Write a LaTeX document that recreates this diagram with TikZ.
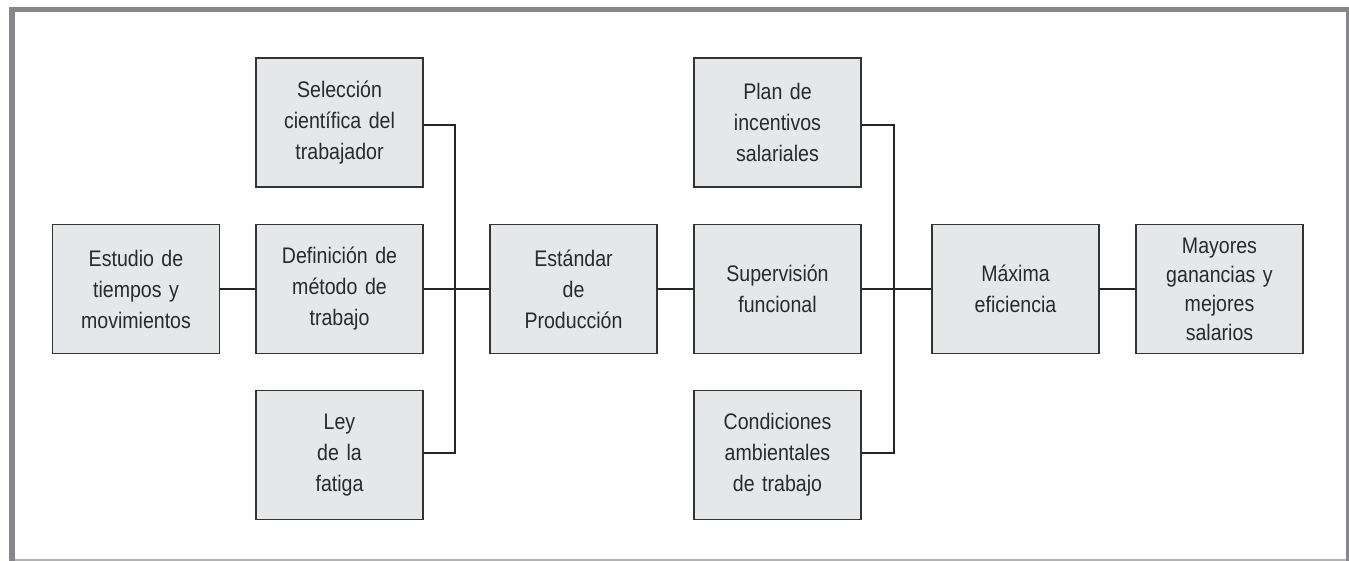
\documentclass[tikz,border=0pt]{standalone}
\usepackage{fontspec}
\setmainfont{Liberation Sans}[FakeStretch=0.87]
\definecolor{framegray}{HTML}{87878B}
\definecolor{boxfill}{HTML}{E6E7E9}
\definecolor{boxline}{HTML}{333335}
\definecolor{txt}{HTML}{2A2A2C}
\begin{document}
\begin{tikzpicture}[x=1pt,y=-1pt,
  box/.style={draw=boxline, line width=1.8pt, fill=boxfill, rectangle,
    minimum width=167pt, minimum height=129pt, inner sep=0pt,
    text width=160pt, align=center, text=txt,
    font=\fontsize{22.5}{31}\selectfont},
  conn/.style={draw=black!85, line width=1.4pt}]
\useasboundingbox (0,0) rectangle (1349,561);
% frame
\fill[white] (0,0) rectangle (1349,561);
\fill[framegray] (9,7) rectangle (1349,12.5);
\fill[framegray] (9,7) rectangle (14.5,561);
\fill[framegray] (1346,7) rectangle (1349,561);
\fill[black!30] (14.5,559.3) rectangle (1346,560.6);
% nodes
\node[box] (est) at (136,289) {Estudio de\\tiempos y\\movimientos};
\node[box] (def) at (339.5,289) {Definición de\\método de\\trabajo};
\node[box] (sel) at (339.5,122.5) {Selección\\científica del\\trabajador};
\node[box] (ley) at (339.5,455) {Ley\\de la\\fatiga};
\node[box] (estd) at (573.5,289) {Estándar\\de\\Producción};
\node[box] (sup) at (777.5,289) {Supervisión\\funcional};
\node[box] (plan) at (777.5,122.5) {Plan de\\incentivos\\salariales};
\node[box] (cond) at (777.5,455) {Condiciones\\ambientales\\de trabajo};
\node[box] (max) at (1015.5,289) {Máxima\\eficiencia};
\node[box, font=\fontsize{22.5}{29}\selectfont] (may) at (1219.5,289) {Mayores\\ganancias y\\mejores\\salarios};
% junctions
\coordinate (j1) at (455,289);
\coordinate (j2) at (894,289);
% connectors
\draw[conn] ([yshift=-2.5pt]sel.east) -| (j1) |- ([yshift=2pt]ley.east);
\draw[conn] (est) -- (def);
\draw[conn] (def) -- (estd);
\draw[conn] (estd) -- (sup);
\draw[conn] (sup) -- (max);
\draw[conn] ([yshift=-2.5pt]plan.east) -| (j2) |- ([yshift=2pt]cond.east);
\draw[conn] (max) -- (may);
\end{tikzpicture}
\end{document}
